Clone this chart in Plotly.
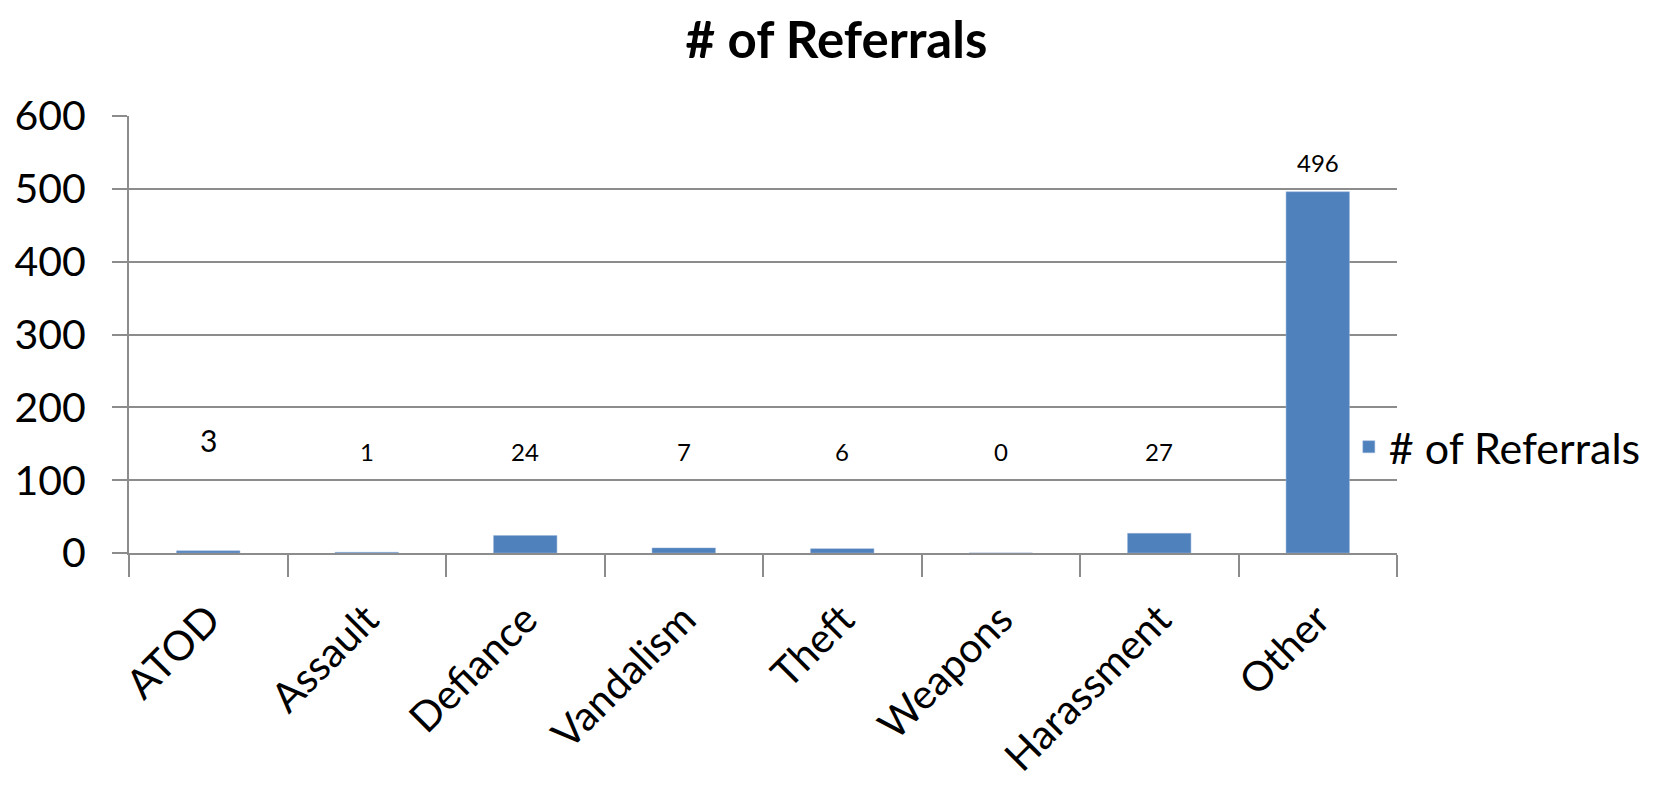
"""
# of Referrals 柱状图
"""
import plotly.graph_objects as go

categories = ['ATOD', 'Assault', 'Defiance', 'Vandalism', 'Theft', 'Weapons', 'Harassment', 'Other']
referrals = [3, 1, 24, 7, 6, 0, 27, 496]
y_ticks = [0, 100, 200, 300, 400, 500, 600]

FONT = 'Lato'
BAR_COLOR = '#4f81bd'
GRID_COLOR = '#8c8c8c'

fig = go.Figure()

fig.add_trace(go.Bar(
    x=categories,
    y=referrals,
    name='# of Referrals',
    marker=dict(color=BAR_COLOR, line=dict(color='#9bb5d8', width=0.5)),
    width=0.4,
    hoverinfo='x+y'
))

# 数据标签: 小数值的标签在图中停在固定高度
for cat, val in zip(categories, referrals):
    if val > 150:
        label_y, size = val + 40, 24
    elif cat == 'ATOD':
        label_y, size = 155, 30
    else:
        label_y, size = 139, 24
    fig.add_annotation(
        x=cat, y=label_y, text=str(val), showarrow=False,
        font=dict(family=FONT, size=size, color='black'),
        yanchor='middle'
    )

# 页面 body 自带 8px 边距, 所以图比窗口小 16px
fig.update_layout(
    width=1647,
    height=775,
    paper_bgcolor='white',
    plot_bgcolor='white',
    margin=dict(l=121, r=258, t=108, b=230, autoexpand=False),
    title=dict(
        text='<b># of Referrals</b>',
        x=0.503, xanchor='center', y=0.958, yanchor='middle',
        font=dict(family=FONT, size=51, color='black')
    ),
    font=dict(family=FONT, color='black'),
    showlegend=True,
    legend=dict(
        x=0.962, y=0.243, xanchor='left', yanchor='middle',
        font=dict(family=FONT, size=43, color='black'),
        bgcolor='rgba(0,0,0,0)'
    ),
    bargap=0.6
)

fig.update_xaxes(
    automargin=False,
    tickangle=-45,
    tickson='boundaries',
    ticks='outside',
    ticklen=22,
    tickcolor=GRID_COLOR,
    tickwidth=2,
    showline=True,
    linecolor=GRID_COLOR,
    linewidth=2,
    showgrid=False,
    ticklabelstandoff=24,
    tickfont=dict(family=FONT, size=41, color='black')
)

fig.update_yaxes(
    automargin=False,
    range=[0, 600],
    tickvals=y_ticks,
    ticks='outside',
    ticklen=15,
    tickcolor=GRID_COLOR,
    tickwidth=2,
    showline=True,
    linecolor=GRID_COLOR,
    linewidth=2,
    showgrid=True,
    gridcolor=GRID_COLOR,
    gridwidth=2,
    zeroline=False,
    ticklabelstandoff=18,
    tickfont=dict(family=FONT, size=41, color='black')
)

fig.write_html("out.html")
